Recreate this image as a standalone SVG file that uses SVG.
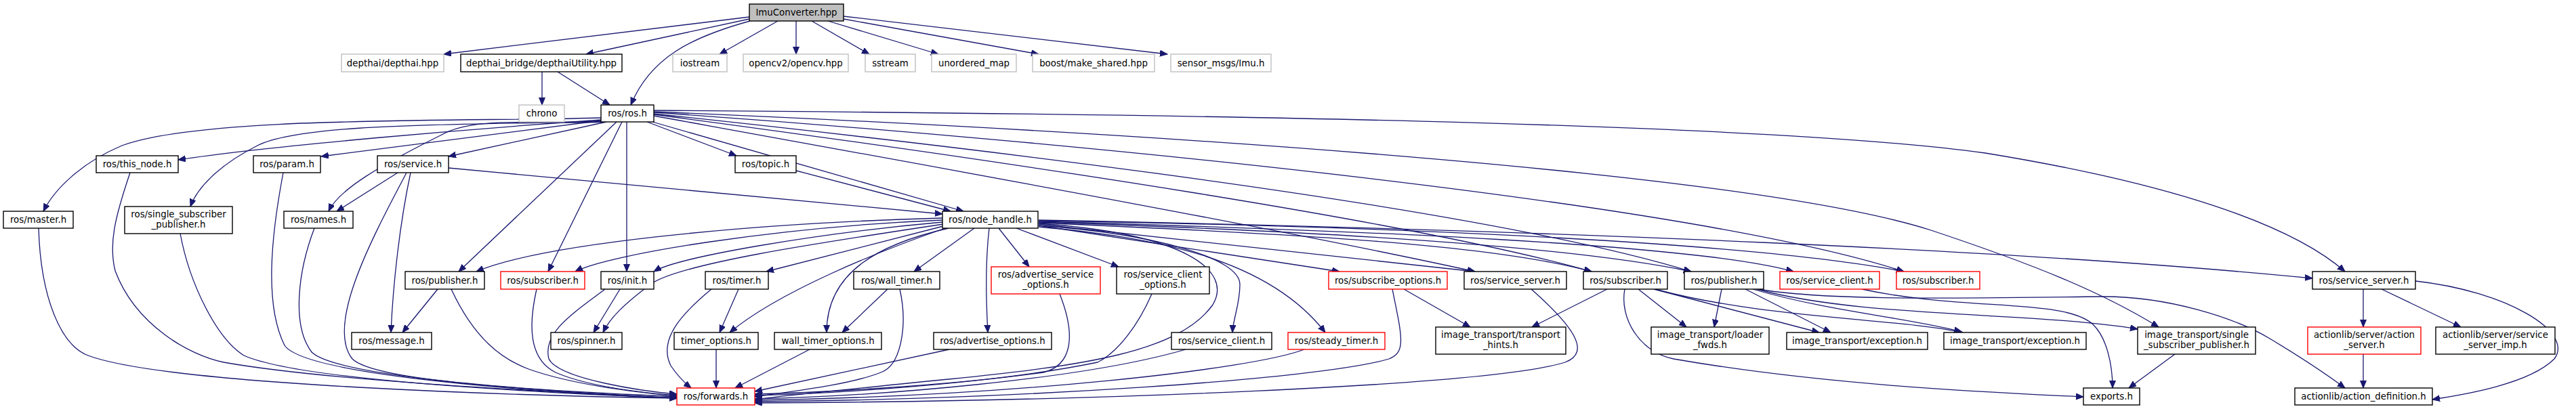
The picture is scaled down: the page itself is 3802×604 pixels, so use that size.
<svg xmlns="http://www.w3.org/2000/svg" width="3802" height="604" viewBox="0 0 3802 604">
<style>
.n rect{fill:#fff;stroke:#000;stroke-width:1.4}
.n.g rect{stroke:#bfbfbf}
.n.r rect{stroke:#ff0000}
.n.f rect{fill:#bfbfbf;stroke:#000}
.n text{font-family:"DejaVu Sans","Liberation Sans",sans-serif;font-size:13.33px;fill:#000;text-anchor:middle}
#edges path{fill:none;stroke:#191970;stroke-width:1.3;marker-end:url(#arr)}
</style>
<defs>
<marker id="arr" markerUnits="userSpaceOnUse" markerWidth="12" markerHeight="10" refX="11" refY="4.5" orient="auto">
<path d="M0,0 L11,4.5 L0,9 z" fill="#191970" stroke="#191970" stroke-width="1"/>
</marker>
</defs>
<rect width="3802" height="604" fill="#fff"/>
<g id="edges">
<path d="M1106,25 L655,80"/>
<path d="M1106,28 L865,80"/>
<path d="M1107,31 C1020,55 960,85 931,155"/>
<path d="M1148,31 L1062,80"/>
<path d="M1175,31 L1175,80"/>
<path d="M1198,31 L1283,80"/>
<path d="M1222,31 L1385,80"/>
<path d="M1245,28 L1533,80"/>
<path d="M1245,24 L1723,80"/>
<path d="M800,106 L800,155"/>
<path d="M823,106 L900,155"/>
<path d="M887,174 C700,180 300,170 180,215 C120,240 80,280 64,312"/>
<path d="M887,177 C700,190 400,215 263,236"/>
<path d="M888,178 L474,231"/>
<path d="M888,179 C700,185 450,180 380,215 C320,245 290,280 281,305"/>
<path d="M890,180 C800,185 700,170 650,200 C560,245 500,280 485,312"/>
<path d="M895,180 L662,231"/>
<path d="M910,180 L677,401"/>
<path d="M918,180 L809,401"/>
<path d="M925,180 L925,401"/>
<path d="M955,180 L1087,230"/>
<path d="M963,180 L1422,312"/>
<path d="M965,171 C1400,250 1900,340 2177,401"/>
<path d="M965,169 C1500,240 2100,330 2349,401"/>
<path d="M965,168 C1500,225 2200,310 2496,401"/>
<path d="M965,166 C1600,210 2500,300 2810,401"/>
<path d="M965,165 C1800,200 2600,260 2850,340 C3000,390 3100,430 3186,483"/>
<path d="M965,163 C1700,168 2600,180 2930,226 C3200,270 3380,330 3461,401"/>
<path d="M662,248 L1391,316"/>
<path d="M587,255 L497,312"/>
<path d="M606,255 C590,330 580,420 577,491"/>
<path d="M600,255 C550,350 480,480 520,530 C560,570 900,580 999,586"/>
<path d="M1175,252 L1403,312"/>
<path d="M57,337 C60,440 90,510 130,525 C250,570 800,585 999,588"/>
<path d="M192,255 C170,320 160,360 170,400 C200,480 280,525 330,535 C500,565 850,580 999,588"/>
<path d="M266,345 C280,420 320,500 360,525 C450,565 850,582 999,588"/>
<path d="M418,255 C400,350 390,450 420,510 C450,555 800,580 999,588"/>
<path d="M464,337 C440,400 430,480 460,520 C500,560 850,580 999,588"/>
<path d="M646,427 L594,491"/>
<path d="M666,427 C700,500 740,530 780,545 C850,570 950,580 999,585"/>
<path d="M792,427 C780,480 780,530 820,550 C870,572 950,580 999,584"/>
<path d="M915,427 L876,491"/>
<path d="M893,427 C850,460 800,490 810,530 C825,560 950,578 999,582"/>
<path d="M1391,322 C1100,330 800,360 703,401"/>
<path d="M1391,325 C1150,335 900,375 849,401"/>
<path d="M1391,328 C1200,345 1000,380 965,401"/>
<path d="M1392,331 C1200,360 1000,390 960,420 C920,450 900,470 890,491"/>
<path d="M1392,334 L1131,401"/>
<path d="M1395,337 C1300,370 1150,430 1077,491"/>
<path d="M1438,337 L1349,401"/>
<path d="M1400,337 C1300,360 1220,400 1220,491"/>
<path d="M1460,337 C1455,380 1455,440 1458,491"/>
<path d="M1474,337 L1519,394"/>
<path d="M1500,337 L1651,394"/>
<path d="M1533,330 C1750,345 1820,400 1790,450 C1740,520 1600,540 1400,560 C1250,575 1150,585 1114,590"/>
<path d="M1533,333 C1700,345 1830,380 1830,420 C1830,450 1820,470 1819,491"/>
<path d="M1533,335 C1700,350 1870,380 1956,491"/>
<path d="M1533,333 L1977,401"/>
<path d="M1533,331 L2177,401"/>
<path d="M1533,329 C1900,345 2200,360 2349,401"/>
<path d="M1533,328 C1900,340 2300,360 2496,401"/>
<path d="M1533,327 C2000,340 2500,360 2647,401"/>
<path d="M1533,326 C2100,335 2600,360 2810,401"/>
<path d="M1533,325 C2300,340 3000,370 3413,411"/>
<path d="M1090,427 L1062,491"/>
<path d="M1050,427 C1010,460 970,500 990,540 C1000,555 1010,565 1020,573"/>
<path d="M1057,516 L1057,573"/>
<path d="M1310,427 L1243,491"/>
<path d="M1328,427 C1340,480 1330,540 1300,550 C1250,570 1150,580 1114,586"/>
<path d="M1195,516 L1085,573"/>
<path d="M1401,516 L1114,578"/>
<path d="M1564,434 C1590,500 1580,540 1540,550 C1400,570 1200,580 1114,582"/>
<path d="M1700,434 C1680,480 1650,520 1620,535 C1450,570 1200,582 1114,584"/>
<path d="M1750,516 C1600,560 1300,585 1114,589"/>
<path d="M1925,516 C1850,545 1500,585 1114,591"/>
<path d="M2055,427 C2070,500 2075,520 2050,530 C1950,560 1500,590 1114,593"/>
<path d="M2260,427 C2320,480 2350,520 2310,535 C2200,570 1600,593 1114,595"/>
<path d="M2072,427 L2170,483"/>
<path d="M2372,427 L2261,483"/>
<path d="M2418,427 L2489,483"/>
<path d="M2541,427 L2530,483"/>
<path d="M2441,427 L2685,491"/>
<path d="M2576,427 L2702,491"/>
<path d="M2443,427 C2600,470 2800,470 2897,491"/>
<path d="M2587,427 C2700,460 2820,470 2895,490"/>
<path d="M2398,427 C2390,470 2420,520 2470,530 C2700,570 2950,580 3075,586"/>
<path d="M2593,427 C2750,470 3000,460 3155,486"/>
<path d="M2595,427 C2700,445 2900,440 3100,438 C3200,437 3300,470 3350,500 C3400,530 3430,550 3461,573"/>
<path d="M2748,427 C2900,460 3050,440 3090,480 C3110,500 3118,540 3118,573"/>
<path d="M3210,523 L3142,573"/>
<path d="M3488,427 L3488,483"/>
<path d="M3515,427 L3632,483"/>
<path d="M3565,415 C3700,430 3800,490 3770,530 C3730,570 3620,585 3590,590"/>
<path d="M3488,523 L3488,573"/>
</g>
<g id="node1" class="n f"><rect x="1106" y="6" width="139" height="25"/><text x="1175.5" y="23.2">ImuConverter.hpp</text></g>
<g id="node2" class="n g"><rect x="504" y="80" width="151" height="26"/><text x="579.5" y="97.7">depthai/depthai.hpp</text></g>
<g id="node3" class="n"><rect x="680" y="80" width="238" height="26"/><text x="799" y="97.7">depthai_bridge/depthaiUtility.hpp</text></g>
<g id="node4" class="n g"><rect x="993" y="80" width="80" height="26"/><text x="1033" y="97.7">iostream</text></g>
<g id="node5" class="n g"><rect x="1097" y="80" width="155" height="26"/><text x="1174.5" y="97.7">opencv2/opencv.hpp</text></g>
<g id="node6" class="n g"><rect x="1277" y="80" width="74" height="26"/><text x="1314" y="97.7">sstream</text></g>
<g id="node7" class="n g"><rect x="1375" y="80" width="125" height="26"/><text x="1437.5" y="97.7">unordered_map</text></g>
<g id="node8" class="n g"><rect x="1524" y="80" width="180" height="26"/><text x="1614" y="97.7">boost/make_shared.hpp</text></g>
<g id="node9" class="n g"><rect x="1728" y="80" width="148" height="26"/><text x="1802" y="97.7">sensor_msgs/Imu.h</text></g>
<g id="node10" class="n g"><rect x="766" y="155" width="67" height="25"/><text x="799.5" y="172.2">chrono</text></g>
<g id="node11" class="n"><rect x="887" y="155" width="78" height="25"/><text x="926" y="172.2">ros/ros.h</text></g>
<g id="node12" class="n"><rect x="142" y="230" width="121" height="25"/><text x="202.5" y="247.2">ros/this_node.h</text></g>
<g id="node13" class="n"><rect x="374" y="230" width="99" height="25"/><text x="423.5" y="247.2">ros/param.h</text></g>
<g id="node14" class="n"><rect x="557" y="230" width="105" height="25"/><text x="609.5" y="247.2">ros/service.h</text></g>
<g id="node15" class="n"><rect x="1085" y="230" width="90" height="25"/><text x="1130" y="247.2">ros/topic.h</text></g>
<g id="node16" class="n"><rect x="5" y="312" width="103" height="25"/><text x="56.5" y="329.2">ros/master.h</text></g>
<g id="node17" class="n"><rect x="184" y="305" width="159" height="40"/><text x="263.5" y="321.4">ros/single_subscriber</text><text x="263.5" y="336.4">_publisher.h</text></g>
<g id="node18" class="n"><rect x="419" y="312" width="102" height="25"/><text x="470" y="329.2">ros/names.h</text></g>
<g id="node19" class="n"><rect x="1391" y="312" width="141" height="25"/><text x="1461.5" y="329.2">ros/node_handle.h</text></g>
<g id="node20" class="n"><rect x="598" y="401" width="117" height="26"/><text x="656.5" y="418.7">ros/publisher.h</text></g>
<g id="node21" class="n r"><rect x="739" y="401" width="124" height="26"/><text x="801" y="418.7">ros/subscriber.h</text></g>
<g id="node22" class="n"><rect x="887" y="401" width="78" height="26"/><text x="926" y="418.7">ros/init.h</text></g>
<g id="node23" class="n"><rect x="1041" y="401" width="93" height="26"/><text x="1087.5" y="418.7">ros/timer.h</text></g>
<g id="node24" class="n"><rect x="1260" y="401" width="127" height="26"/><text x="1323.5" y="418.7">ros/wall_timer.h</text></g>
<g id="node25" class="n r"><rect x="1463" y="394" width="161" height="40"/><text x="1543.5" y="410.4">ros/advertise_service</text><text x="1543.5" y="425.4">_options.h</text></g>
<g id="node26" class="n"><rect x="1648" y="394" width="137" height="40"/><text x="1716.5" y="410.4">ros/service_client</text><text x="1716.5" y="425.4">_options.h</text></g>
<g id="node27" class="n r"><rect x="1961" y="401" width="175" height="26"/><text x="2048.5" y="418.7">ros/subscribe_options.h</text></g>
<g id="node28" class="n"><rect x="2161" y="401" width="151" height="26"/><text x="2236.5" y="418.7">ros/service_server.h</text></g>
<g id="node29" class="n"><rect x="2337" y="401" width="124" height="26"/><text x="2399" y="418.7">ros/subscriber.h</text></g>
<g id="node30" class="n"><rect x="2486" y="401" width="117" height="26"/><text x="2544.5" y="418.7">ros/publisher.h</text></g>
<g id="node31" class="n r"><rect x="2627" y="401" width="147" height="26"/><text x="2700.5" y="418.7">ros/service_client.h</text></g>
<g id="node32" class="n r"><rect x="2799" y="401" width="123" height="26"/><text x="2860.5" y="418.7">ros/subscriber.h</text></g>
<g id="node33" class="n"><rect x="3413" y="401" width="152" height="26"/><text x="3489" y="418.7">ros/service_server.h</text></g>
<g id="node34" class="n"><rect x="519" y="491" width="118" height="25"/><text x="578" y="508.2">ros/message.h</text></g>
<g id="node35" class="n"><rect x="813" y="491" width="105" height="25"/><text x="865.5" y="508.2">ros/spinner.h</text></g>
<g id="node36" class="n"><rect x="995" y="491" width="124" height="25"/><text x="1057" y="508.2">timer_options.h</text></g>
<g id="node37" class="n"><rect x="1143" y="491" width="158" height="25"/><text x="1222" y="508.2">wall_timer_options.h</text></g>
<g id="node38" class="n"><rect x="1378" y="491" width="174" height="25"/><text x="1465" y="508.2">ros/advertise_options.h</text></g>
<g id="node39" class="n"><rect x="1729" y="491" width="148" height="25"/><text x="1803" y="508.2">ros/service_client.h</text></g>
<g id="node40" class="n r"><rect x="1901" y="491" width="143" height="25"/><text x="1972.5" y="508.2">ros/steady_timer.h</text></g>
<g id="node41" class="n"><rect x="2119" y="483" width="192" height="40"/><text x="2215" y="499.4">image_transport/transport</text><text x="2215" y="514.4">_hints.h</text></g>
<g id="node42" class="n"><rect x="2437" y="483" width="174" height="40"/><text x="2524" y="499.4">image_transport/loader</text><text x="2524" y="514.4">_fwds.h</text></g>
<g id="node43" class="n"><rect x="2637" y="491" width="208" height="25"/><text x="2741" y="508.2">image_transport/exception.h</text></g>
<g id="node44" class="n"><rect x="2869" y="491" width="210" height="25"/><text x="2974" y="508.2">image_transport/exception.h</text></g>
<g id="node45" class="n"><rect x="3155" y="483" width="174" height="40"/><text x="3242" y="499.4">image_transport/single</text><text x="3242" y="514.4">_subscriber_publisher.h</text></g>
<g id="node46" class="n r"><rect x="3406" y="483" width="167" height="40"/><text x="3489.5" y="499.4">actionlib/server/action</text><text x="3489.5" y="514.4">_server.h</text></g>
<g id="node47" class="n"><rect x="3595" y="483" width="176" height="40"/><text x="3683" y="499.4">actionlib/server/service</text><text x="3683" y="514.4">_server_imp.h</text></g>
<g id="node48" class="n r"><rect x="999" y="573" width="115" height="25"/><text x="1056.5" y="590.2">ros/forwards.h</text></g>
<g id="node49" class="n"><rect x="3075" y="573" width="83" height="25"/><text x="3116.5" y="590.2">exports.h</text></g>
<g id="node50" class="n"><rect x="3387" y="573" width="203" height="25"/><text x="3488.5" y="590.2">actionlib/action_definition.h</text></g>
</svg>
